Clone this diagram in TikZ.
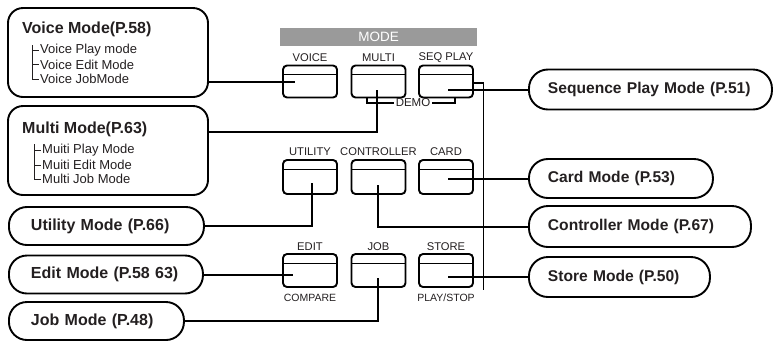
\documentclass[tikz,border=0pt]{standalone}
\usepackage{fontspec}
\setmainfont{Liberation Sans}
\definecolor{ink}{HTML}{231F20}
\definecolor{barg}{HTML}{9A9A9A}
\begin{document}
\begin{tikzpicture}[x=1pt,y=-1pt,
  conn/.style={line width=2pt, draw=black},
  thinline/.style={line width=1.1pt, draw=black},
  tree/.style={line width=0.8pt, draw=ink},
  btn/.style={draw, line width=1.9pt, rounded corners=4pt, minimum width=54pt, minimum height=32pt, inner sep=0pt,
    path picture={\draw[line width=1pt] ([yshift=-9pt]path picture bounding box.north west) -- ([yshift=-9pt]path picture bounding box.north east);}},
  blab/.style={font=\fontsize{11.2}{13}\selectfont, text=ink, inner sep=0pt},
  slab/.style={font=\fontsize{10.5}{12}\selectfont, text=ink, inner sep=0pt},
  pill/.style={draw, line width=1.9pt, rounded corners=18pt, minimum height=38pt, inner xsep=22pt, inner ysep=0pt, align=left, font=\fontsize{16}{18}\selectfont\bfseries, text=ink},
  rpill/.style={pill, inner xsep=19pt, minimum height=40pt, rounded corners=19pt, font=\fontsize{15.6}{18}\selectfont\bfseries},
  bigbox/.style={draw, line width=1.9pt, rounded corners=15pt, minimum width=200pt, minimum height=89pt, inner sep=0pt},
  btitle/.style={font=\fontsize{16}{18}\selectfont\bfseries, text=ink, inner sep=0pt, anchor=west},
  item/.style={font=\fontsize{13}{15}\selectfont, text=ink, inner sep=0pt, anchor=west},
]
\useasboundingbox (0,0) rectangle (775,341);

% MODE bar
\node[fill=barg, minimum width=197pt, minimum height=18pt, inner sep=0pt, text=white, font=\fontsize{13.5}{15}\selectfont] (modebar) at (378.5,37) {MODE};

% Buttons
\node[btn] (voicebtn) at (310,81.5) {};
\node[btn] (multibtn) at (378.5,81.5) {};
\node[btn] (seqbtn) at (446,81.5) {};
\node[btn, minimum height=34pt] (utilbtn) at (310,177) {};
\node[btn, minimum height=34pt] (ctrlbtn) at (378.5,177) {};
\node[btn, minimum height=34pt] (cardbtn) at (446,177) {};
\node[btn, minimum height=33pt] (editbtn) at (310,270.5) {};
\node[btn, minimum height=33pt] (jobbtn) at (378.5,270.5) {};
\node[btn, minimum height=33pt] (storebtn) at (446,270.5) {};

% Button labels
\node[blab] (lvoice) at (310,57.5) {VOICE};
\node[blab] (lmulti) at (378.5,57.5) {MULTI};
\node[blab] (lseq) at (446,57.5) {SEQ PLAY};
\node[blab] (lutil) at (310,152) {UTILITY};
\node[blab] (lctrl) at (378.5,152) {CONTROLLER};
\node[blab] (lcard) at (446,152) {CARD};
\node[blab] (ledit) at (310,247) {EDIT};
\node[blab] (ljob) at (378.5,247) {JOB};
\node[blab] (lstore) at (446,247) {STORE};
\node[slab] (lcompare) at (310,298) {COMPARE};
\node[slab] (lplay) at (446,298) {PLAY/STOP};

% DEMO bracket
\node[blab, font=\fontsize{11.5}{13}\selectfont, inner xsep=2pt] (demo) at (413,103) {DEMO};
\coordinate (dl) at (367,98);
\coordinate (dr) at (455,98);
\draw[thinline] (dl) |- (demo.west);
\draw[thinline] (demo.east) -| (dr);

% vertical line from SEQ PLAY
\coordinate (vtop) at (483.5,83);
\coordinate (vbot) at (483.5,290);
\draw[thinline] (seqbtn.east |- vtop) -- (vtop) -- (vbot);

% Left boxes
\node[bigbox] (voicebox) at (108,52.5) {};
\node[btitle] (voicetitle) at (22,29) {Voice Mode(P.58)};
\node[item] (voice1) at (40,50) {Voice Play mode};
\node[item] (voice2) at (40,64.5) {Voice Edit Mode};
\node[item] (voice3) at (40,79) {Voice JobMode};
\draw[tree] (32,45) -- (32,79) -- ([xshift=-1.5pt]voice3.west);
\draw[tree] (32,50) -- ([xshift=-1.5pt]voice1.west);
\draw[tree] (32,64.5) -- ([xshift=-1.5pt]voice2.west);

\node[bigbox] (multibox) at (108,150.5) {};
\node[btitle] (multititle) at (22,129) {Multi Mode(P.63)};
\node[item] (multi1) at (42,150) {Muiti Play Mode};
\node[item] (multi2) at (42,165) {Muiti Edit Mode};
\node[item] (multi3) at (42,179) {Multi Job Mode};
\draw[tree] (34,144) -- (34,179) -- ([xshift=-1.5pt]multi3.west);
\draw[tree] (34,150) -- ([xshift=-1.5pt]multi1.west);
\draw[tree] (34,165) -- ([xshift=-1.5pt]multi2.west);

\node[pill, text width=151pt, anchor=west] (utilbox) at (8,226) {\mbox{Utility Mode (P.66)}};
\node[pill, text width=150pt, anchor=west] (editbox) at (8,274.5) {\mbox{Edit Mode (P.58 63)}};
\node[pill, text width=131pt, anchor=west] (jobbox) at (8,321) {\mbox{Job Mode (P.48)}};

% Right boxes
\node[rpill, text width=205pt, anchor=west] (seqbox) at (528,89.5) {\mbox{Sequence Play Mode (P.51)}};
\node[rpill, text width=146pt, anchor=west, minimum height=39pt] (cardbox) at (528,178.5) {\mbox{Card Mode (P.53)}};
\node[rpill, text width=184pt, anchor=west, minimum height=41pt] (ctrlbox) at (528,226.5) {\mbox{Controller Mode (P.67)}};
\node[rpill, text width=143pt, anchor=west] (storebox) at (528,277) {\mbox{Store Mode (P.50)}};

% Connector end points inside buttons
\coordinate (pvoice) at (295,82);
\coordinate (pmulti) at (377,90);
\coordinate (mcorner) at (377,132);
\coordinate (putil) at (312,183);
\coordinate (pctrl) at (378,185);
\coordinate (pedit) at (293,275);
\coordinate (pjob) at (378,278);
\coordinate (pright) at (448,0);

% Connectors
\draw[conn] (voicebox.east |- pvoice) -- (pvoice);
\draw[conn] (multibox.east |- mcorner) -- (mcorner) -- (pmulti);
\draw[conn] (utilbox.east) -| (putil);
\draw[conn] (pctrl) |- (ctrlbox.west);
\draw[conn] (editbox.east) -- (editbox.east -| pedit);
\draw[conn] (jobbox.east) -| (pjob);
\draw[conn] (seqbox.west -| pright) -- (seqbox.west);
\draw[conn] (cardbox.west -| pright) -- (cardbox.west);
\draw[conn] (storebox.west -| pright) -- (storebox.west);
\end{tikzpicture}
\end{document}
